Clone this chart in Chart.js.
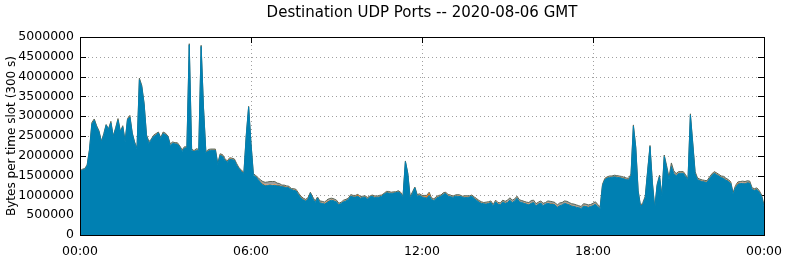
<!DOCTYPE html>
<html>
<head>
<meta charset="utf-8">
<title>Destination UDP Ports</title>
<script src="https://cdn.jsdelivr.net/npm/chart.js@4.4.1/dist/chart.umd.min.js"></script>
<style>
  html, body { margin: 0; padding: 0; background: #fff; }
  #wrap { width: 786px; height: 260px; position: relative; }
</style>
</head>
<body>
<div id="wrap"><canvas id="udpChart"></canvas></div>
<script>
// Titles and axis labels
const CHART_TITLE = 'Destination UDP Ports -- 2020-08-06 GMT';
const Y_TITLE = 'Bytes per time slot (300 s)';

// One slot = 5 minutes, the day goes 00:00 .. 24:00
const SLOT_MINUTES = 5;
const xTickMinutes = [0, 360, 720, 1080, 1440];
const xTickLabels = ['00:00', '06:00', '12:00', '18:00', '00:00'];
const yTickValues = [0, 500000, 1000000, 1500000, 2000000, 2500000, 3000000, 3500000, 4000000, 4500000, 5000000];

// Main layer (blue), in millions of bytes per slot, one row per hour
const mainPortsMB = [
  1.60, 1.64, 1.66, 1.75, 2.14, 2.80, 2.90, 2.73, 2.60, 2.35, 2.52, 2.77,
  2.66, 2.83, 2.48, 2.68, 2.90, 2.60, 2.73, 2.35, 2.91, 2.98, 2.56, 2.32,
  2.18, 3.92, 3.74, 3.30, 2.50, 2.32, 2.40, 2.49, 2.52, 2.58, 2.43, 2.56,
  2.54, 2.48, 2.26, 2.32, 2.30, 2.30, 2.22, 2.11, 2.20, 2.20, 4.80, 2.14,
  2.10, 2.14, 2.14, 4.76, 3.20, 2.07, 2.12, 2.14, 2.14, 2.14, 1.78, 2.01,
  1.99, 1.89, 1.84, 1.91, 1.90, 1.89, 1.76, 1.67, 1.60, 1.55, 2.50, 3.23,
  2.30, 1.51, 1.47, 1.40, 1.33, 1.27, 1.24, 1.25, 1.26, 1.25, 1.25, 1.24,
  1.24, 1.22, 1.21, 1.20, 1.19, 1.15, 1.13, 1.11, 1.02, 0.94, 0.89, 0.86,
  0.90, 1.05, 0.92, 0.82, 0.93, 0.81, 0.80, 0.78, 0.82, 0.86, 0.88, 0.86,
  0.84, 0.76, 0.80, 0.84, 0.86, 0.90, 0.98, 0.96, 0.96, 0.98, 0.93, 0.95,
  0.96, 0.91, 0.96, 0.98, 0.95, 0.95, 0.96, 0.98, 1.03, 1.07, 1.06, 1.05,
  1.06, 1.07, 1.09, 1.05, 0.96, 1.85, 1.55, 0.93, 1.05, 1.19, 0.98, 1.00,
  0.96, 0.95, 0.93, 1.00, 0.90, 0.87, 0.93, 0.96, 0.98, 1.03, 1.05, 0.98,
  0.97, 0.95, 0.98, 0.98, 0.97, 0.96, 0.95, 0.95, 0.96, 0.98, 0.92, 0.88,
  0.83, 0.80, 0.79, 0.78, 0.80, 0.82, 0.73, 0.84, 0.78, 0.76, 0.84, 0.80,
  0.82, 0.88, 0.82, 0.86, 0.93, 0.84, 0.82, 0.80, 0.78, 0.76, 0.80, 0.82,
  0.73, 0.78, 0.81, 0.74, 0.78, 0.80, 0.78, 0.78, 0.76, 0.70, 0.74, 0.76,
  0.80, 0.78, 0.76, 0.73, 0.72, 0.70, 0.69, 0.67, 0.73, 0.72, 0.70, 0.72,
  0.74, 0.78, 0.72, 0.67, 1.25, 1.40, 1.44, 1.45, 1.46, 1.47, 1.46, 1.45,
  1.44, 1.42, 1.40, 1.39, 1.50, 2.75, 2.20, 1.10, 0.72, 0.78, 0.95, 1.60,
  2.23, 1.30, 0.67, 1.25, 1.47, 0.97, 1.98, 1.70, 1.40, 1.73, 1.55, 1.50,
  1.56, 1.56, 1.56, 1.48, 1.39, 3.03, 2.30, 1.55, 1.40, 1.37, 1.35, 1.34,
  1.33, 1.42, 1.50, 1.56, 1.53, 1.49, 1.45, 1.43, 1.38, 1.36, 1.30, 1.03,
  1.20, 1.28, 1.30, 1.30, 1.29, 1.32, 1.31, 1.15, 1.13, 1.15, 1.08, 0.97,
  0.72
];

// Thin orange layer on top of the blue
const orangePortsMB = [
  0.01, 0.01, 0.01, 0.01, 0.02, 0.02, 0.01, 0.02, 0.01, 0.01, 0.02, 0.01,
  0.01, 0.02, 0.01, 0.01, 0.02, 0.01, 0.01, 0.02, 0.01, 0.02, 0.01, 0.01,
  0.01, 0.02, 0.02, 0.01, 0.01, 0.02, 0.01, 0.01, 0.02, 0.01, 0.01, 0.02,
  0.01, 0.01, 0.02, 0.01, 0.01, 0.02, 0.01, 0.02, 0.01, 0.01, 0.02, 0.01,
  0.01, 0.02, 0.01, 0.02, 0.01, 0.01, 0.02, 0.01, 0.01, 0.02, 0.01, 0.02,
  0.02, 0.02, 0.01, 0.03, 0.02, 0.01, 0.02, 0.01, 0.02, 0.01, 0.02, 0.01,
  0.01, 0.02, 0.01, 0.02, 0.02, 0.03, 0.03, 0.02, 0.02, 0.02, 0.03, 0.02,
  0.02, 0.02, 0.03, 0.02, 0.02, 0.01, 0.02, 0.02, 0.02, 0.03, 0.02, 0.02,
  0.02, 0.01, 0.02, 0.02, 0.01, 0.02, 0.02, 0.02, 0.03, 0.02, 0.02, 0.02,
  0.02, 0.02, 0.01, 0.02, 0.02, 0.01, 0.02, 0.02, 0.02, 0.04, 0.02, 0.01,
  0.02, 0.02, 0.01, 0.02, 0.02, 0.01, 0.02, 0.02, 0.01, 0.02, 0.02, 0.01,
  0.02, 0.01, 0.02, 0.02, 0.01, 0.01, 0.01, 0.02, 0.02, 0.01, 0.02, 0.02,
  0.02, 0.03, 0.05, 0.07, 0.02, 0.02, 0.02, 0.02, 0.02, 0.02, 0.02, 0.02,
  0.02, 0.01, 0.02, 0.02, 0.02, 0.01, 0.02, 0.02, 0.01, 0.02, 0.02, 0.02,
  0.02, 0.02, 0.01, 0.02, 0.02, 0.02, 0.01, 0.02, 0.02, 0.02, 0.02, 0.02,
  0.02, 0.01, 0.02, 0.02, 0.02, 0.02, 0.01, 0.02, 0.02, 0.02, 0.02, 0.02,
  0.02, 0.02, 0.02, 0.02, 0.01, 0.02, 0.02, 0.02, 0.02, 0.02, 0.02, 0.01,
  0.02, 0.02, 0.02, 0.02, 0.02, 0.02, 0.01, 0.02, 0.02, 0.02, 0.02, 0.02,
  0.02, 0.02, 0.02, 0.02, 0.02, 0.02, 0.02, 0.02, 0.01, 0.02, 0.02, 0.02,
  0.02, 0.02, 0.02, 0.02, 0.02, 0.02, 0.02, 0.02, 0.01, 0.02, 0.02, 0.02,
  0.02, 0.02, 0.01, 0.02, 0.02, 0.02, 0.02, 0.02, 0.02, 0.02, 0.02, 0.02,
  0.02, 0.02, 0.02, 0.02, 0.02, 0.02, 0.02, 0.03, 0.02, 0.02, 0.02, 0.02,
  0.02, 0.02, 0.02, 0.02, 0.02, 0.02, 0.02, 0.02, 0.02, 0.02, 0.02, 0.02,
  0.03, 0.03, 0.02, 0.02, 0.02, 0.02, 0.02, 0.02, 0.02, 0.02, 0.02, 0.02,
  0.02
];

// Gray layer, the rest of the ports
const grayPortsMB = [
  0.01, 0.01, 0.01, 0.01, 0.01, 0.02, 0.02, 0.01, 0.02, 0.01, 0.02, 0.01,
  0.01, 0.02, 0.01, 0.02, 0.02, 0.01, 0.02, 0.01, 0.02, 0.02, 0.01, 0.02,
  0.01, 0.02, 0.02, 0.01, 0.02, 0.02, 0.01, 0.02, 0.02, 0.01, 0.02, 0.02,
  0.02, 0.01, 0.02, 0.02, 0.02, 0.01, 0.02, 0.02, 0.02, 0.01, 0.01, 0.02,
  0.02, 0.02, 0.01, 0.01, 0.01, 0.02, 0.02, 0.02, 0.02, 0.01, 0.02, 0.02,
  0.02, 0.02, 0.02, 0.01, 0.02, 0.02, 0.02, 0.01, 0.02, 0.01, 0.01, 0.01,
  0.01, 0.02, 0.02, 0.03, 0.04, 0.05, 0.06, 0.07, 0.07, 0.08, 0.07, 0.05,
  0.04, 0.02, 0.02, 0.02, 0.02, 0.01, 0.02, 0.02, 0.02, 0.01, 0.02, 0.02,
  0.02, 0.02, 0.02, 0.02, 0.02, 0.03, 0.03, 0.03, 0.04, 0.04, 0.03, 0.03,
  0.02, 0.02, 0.02, 0.02, 0.02, 0.02, 0.02, 0.02, 0.02, 0.01, 0.02, 0.02,
  0.01, 0.02, 0.01, 0.01, 0.02, 0.02, 0.02, 0.01, 0.01, 0.01, 0.02, 0.02,
  0.01, 0.01, 0.01, 0.01, 0.01, 0.01, 0.01, 0.02, 0.02, 0.01, 0.02, 0.02,
  0.02, 0.02, 0.02, 0.01, 0.02, 0.02, 0.02, 0.02, 0.01, 0.02, 0.01, 0.02,
  0.02, 0.02, 0.01, 0.02, 0.02, 0.01, 0.02, 0.02, 0.02, 0.01, 0.02, 0.02,
  0.02, 0.02, 0.02, 0.03, 0.02, 0.02, 0.03, 0.02, 0.02, 0.03, 0.02, 0.03,
  0.04, 0.05, 0.04, 0.03, 0.03, 0.03, 0.04, 0.03, 0.03, 0.04, 0.05, 0.04,
  0.04, 0.03, 0.03, 0.04, 0.03, 0.04, 0.05, 0.04, 0.04, 0.04, 0.05, 0.05,
  0.04, 0.05, 0.04, 0.04, 0.04, 0.04, 0.04, 0.03, 0.04, 0.04, 0.04, 0.03,
  0.04, 0.04, 0.03, 0.02, 0.01, 0.01, 0.01, 0.02, 0.02, 0.02, 0.02, 0.02,
  0.02, 0.02, 0.02, 0.02, 0.02, 0.01, 0.01, 0.01, 0.01, 0.02, 0.01, 0.01,
  0.01, 0.02, 0.01, 0.01, 0.02, 0.01, 0.02, 0.03, 0.04, 0.07, 0.05, 0.03,
  0.02, 0.02, 0.02, 0.02, 0.01, 0.01, 0.01, 0.02, 0.02, 0.02, 0.02, 0.02,
  0.02, 0.02, 0.02, 0.02, 0.02, 0.02, 0.02, 0.03, 0.03, 0.02, 0.02, 0.02,
  0.02, 0.03, 0.03, 0.04, 0.04, 0.03, 0.03, 0.02, 0.02, 0.02, 0.02, 0.02,
  0.02
];

const slotMinutes = mainPortsMB.map((_, i) => i * SLOT_MINUTES);

function toPoints(valuesMB) {
  return valuesMB.map((v, i) => ({ x: slotMinutes[i], y: Math.round(v * 1000000) }));
}

// grid, tick marks, frame and title drawn like the gnuplot original
const gnuplotFrame = {
  id: 'gnuplotFrame',
  beforeDatasetsDraw(chart) {
    const { ctx, chartArea: a, scales: { x, y } } = chart;
    ctx.save();
    ctx.lineWidth = 1;
    ctx.strokeStyle = '#a0a0a0';
    ctx.setLineDash([1, 3]);
    ctx.beginPath();
    yTickValues.slice(1, -1).forEach(v => {
      const py = Math.round(y.getPixelForValue(v)) + 0.5;
      ctx.moveTo(a.left, py);
      ctx.lineTo(a.right, py);
    });
    xTickMinutes.slice(1, -1).forEach(m => {
      const px = Math.round(x.getPixelForValue(m)) + 0.5;
      ctx.moveTo(px, a.top);
      ctx.lineTo(px, a.bottom);
    });
    ctx.stroke();

    // inward tick marks
    ctx.setLineDash([]);
    ctx.strokeStyle = '#000';
    ctx.beginPath();
    yTickValues.forEach(v => {
      const py = Math.round(y.getPixelForValue(v)) + 0.5;
      ctx.moveTo(a.left, py);
      ctx.lineTo(a.left + 6, py);
      ctx.moveTo(a.right, py);
      ctx.lineTo(a.right - 6, py);
    });
    xTickMinutes.forEach(m => {
      const px = Math.round(x.getPixelForValue(m)) + 0.5;
      ctx.moveTo(px, a.top);
      ctx.lineTo(px, a.top + 6);
      ctx.moveTo(px, a.bottom);
      ctx.lineTo(px, a.bottom - 6);
    });
    ctx.stroke();
    ctx.restore();
  },
  afterDatasetsDraw(chart) {
    const { ctx, chartArea: a } = chart;
    ctx.save();
    ctx.strokeStyle = '#000';
    ctx.lineWidth = 1;
    ctx.strokeRect(Math.round(a.left) + 0.5, Math.round(a.top) + 0.5,
      Math.round(a.right - a.left), Math.round(a.bottom - a.top));
    ctx.restore();
  },
  afterDraw(chart) {
    const { ctx, chartArea: a } = chart;
    ctx.save();
    ctx.fillStyle = '#000';
    ctx.font = "15px 'DejaVu Sans'";
    ctx.textAlign = 'center';
    ctx.textBaseline = 'alphabetic';
    ctx.fillText(CHART_TITLE, (a.left + a.right) / 2, 17);
    ctx.restore();
  }
};

Chart.defaults.font.family = "'DejaVu Sans', sans-serif";
Chart.defaults.color = '#000';

new Chart(document.getElementById('udpChart'), {
  type: 'line',
  data: {
    datasets: [
      {
        label: 'main',
        data: toPoints(mainPortsMB),
        backgroundColor: '#0080b2',
        borderColor: '#0080b2',
        borderWidth: 1,
        fill: 'origin'
      },
      {
        label: 'orange',
        data: toPoints(orangePortsMB),
        backgroundColor: '#e07010',
        borderColor: '#e07010',
        borderWidth: 0,
        fill: '-1'
      },
      {
        label: 'other',
        data: toPoints(grayPortsMB),
        backgroundColor: '#a0a0a0',
        borderColor: '#5a6656',
        borderWidth: 1,
        fill: '-1'
      }
    ]
  },
  options: {
    responsive: true,
    maintainAspectRatio: false,
    animation: false,
    devicePixelRatio: 1,
    layout: { padding: { left: 0, right: 22, top: 37, bottom: 0 } },
    elements: { point: { radius: 0 }, line: { tension: 0 } },
    plugins: {
      legend: { display: false },
      tooltip: { enabled: false },
      title: { display: false }
    },
    scales: {
      x: {
        type: 'linear',
        min: 0,
        max: 1440,
        grid: { display: false, drawTicks: false },
        border: { display: false },
        afterBuildTicks: scale => { scale.ticks = xTickMinutes.map(v => ({ value: v })); },
        afterFit: scale => {
          scale.height = 25;
          scale.paddingLeft = 0;
          scale.paddingRight = 0;
        },
        ticks: {
          autoSkip: false,
          maxRotation: 0,
          padding: 9,
          font: { size: 12.5 },
          callback: v => xTickLabels[xTickMinutes.indexOf(v)]
        }
      },
      y: {
        stacked: true,
        min: 0,
        max: 5000000,
        grid: { display: false, drawTicks: false },
        border: { display: false },
        afterBuildTicks: scale => { scale.ticks = yTickValues.map(v => ({ value: v })); },
        afterFit: scale => { scale.width = 80; },
        ticks: {
          padding: 6,
          font: { size: 12.5 },
          callback: v => String(v)
        },
        title: {
          display: true,
          text: Y_TITLE,
          font: { size: 12 },
          padding: { top: 5, bottom: 0 }
        }
      }
    }
  },
  plugins: [gnuplotFrame]
});
</script>
</body>
</html>
